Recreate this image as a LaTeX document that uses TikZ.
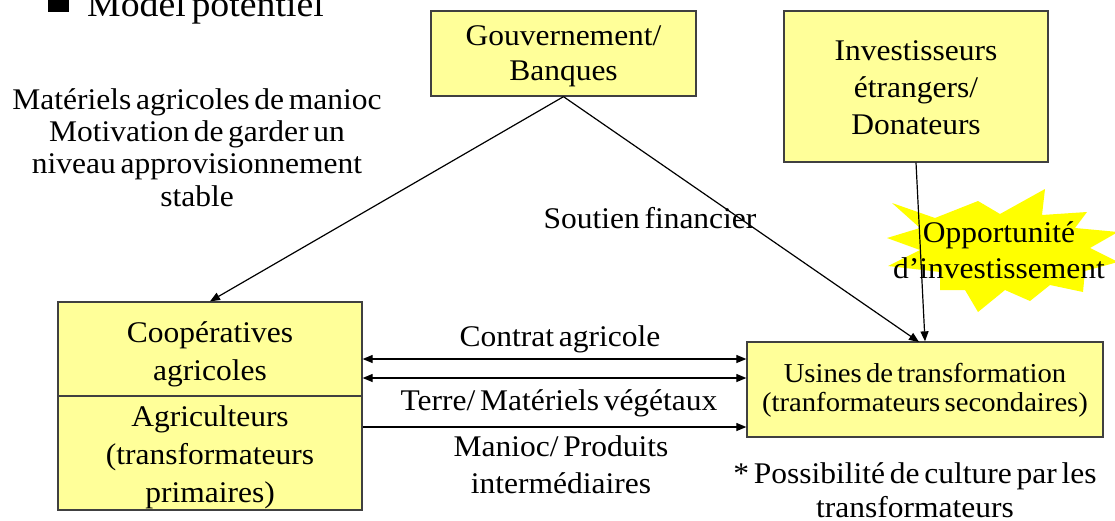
\documentclass[tikz,border=0pt]{standalone}
\usepackage{fontspec}
\setmainfont{Liberation Serif}[FakeStretch=1.05,WordSpace=0.6]
\usetikzlibrary{arrows.meta}
\definecolor{boxfill}{HTML}{FFFF99}
\definecolor{boxline}{HTML}{404040}
\definecolor{burst}{HTML}{FFFF00}
% centred stack of lines, lowered by #1 without changing its size
\newcommand\boxlines[2]{\raisebox{#1}[\height][\depth]{\begin{tabular}{@{}c@{}}#2\end{tabular}}}

\begin{document}
\begin{tikzpicture}[x=1pt,y=-1pt,
  box/.style={draw=boxline, line width=1.3pt, fill=boxfill, inner sep=0pt, anchor=center},
  lbl/.style={inner sep=0pt, font=\fontsize{30}{37}\selectfont},
  link/.style={line width=1.2pt, draw=black},
  tip/.style={link, -{Triangle[length=10pt,width=8pt]}},
  twotip/.style={link, {Triangle[length=10pt,width=8pt]}-{Triangle[length=10pt,width=8pt]}}]

\useasboundingbox (0,0) rectangle (1115,520);

% heading with its bullet
\fill[black] (48,-9) rectangle (69,12);
\node[inner sep=0pt, anchor=base west, font=\fontsize{36}{42}\selectfont] (title) at (87,16) {Model potentiel};

% actors
\node[box, minimum width=265pt, minimum height=85pt, font=\fontsize{30}{35}\selectfont] (gouv) at (563.5,53.5)
  {\boxlines{-2pt}{Gouvernement/\\Banques}};
\node[box, minimum width=264pt, minimum height=151pt, font=\fontsize{30}{37}\selectfont] (invest) at (916,86.5)
  {\boxlines{-4pt}{Investisseurs\\étrangers/\\Donateurs}};
\node[box, minimum width=304pt, minimum height=96pt, font=\fontsize{30}{38}\selectfont] (coop) at (210,350)
  {\boxlines{-4pt}{Coopératives\\agricoles}};
\node[box, minimum width=304pt, minimum height=110pt, font=\fontsize{30}{38}\selectfont] (agri) at (210,453)
  {\boxlines{-4pt}{Agriculteurs\\(transformateurs\\primaires)}};
\node[box, minimum width=356pt, minimum height=95pt, font=\fontsize{27.3}{29}\selectfont] (usines) at (925,389.5)
  {\boxlines{-2pt}{Usines de transformation\\(tranformateurs secondaires)}};

% investment opportunity burst
\fill[burst] (892,203) -- (935,218) -- (978,201) -- (1000,214) -- (1045,189) -- (1042,215)
  -- (1087,212) -- (1075,228) -- (1118,232) -- (1090,248) -- (1118,262) -- (1085,271)
  -- (1083,292) -- (1050,285) -- (1030,301) -- (1005,290) -- (978,312) -- (965,290)
  -- (940,290) -- (940,272) -- (888,266) -- (920,250) -- (887,238) -- (920,228) -- cycle;

% flows
\coordinate (usinesin) at (919,342);
\draw[tip] (gouv.south) -- (coop.north);
\draw[tip] (gouv.south) -- (usinesin);
\draw[tip] (invest.south) -- (usines.north);
\draw[twotip] ([yshift=-9pt]coop.east) -- ([yshift=-9pt]coop.east -| usines.west);
\draw[twotip] ([yshift=-28pt]coop.east) -- ([yshift=-28pt]coop.east -| usines.west);
\draw[tip] ([yshift=26pt]agri.east) -- ([yshift=26pt]agri.east -| usines.west);

% labels
\node[lbl, anchor=north, font=\fontsize{30}{32.3}\selectfont] (motif) at (197,86.4)
  {\boxlines{0pt}{Matériels agricoles de manioc\\Motivation de garder un\\niveau approvisionnement\\stable}};
\node[lbl, anchor=base] (soutien) at (650,228) {Soutien financier};
\node[lbl, anchor=north, font=\fontsize{30}{36}\selectfont] (opport) at (999,216.8)
  {\boxlines{0pt}{Opportunité\\d’investissement}};
\node[lbl, anchor=base] (contrat) at (560,346) {Contrat agricole};
\node[lbl, anchor=base] (terre) at (559,410) {Terre/ Matériels végétaux};
\node[lbl, anchor=north, font=\fontsize{30}{37}\selectfont] (manioc) at (561,430)
  {\boxlines{0pt}{Manioc/ Produits\\intermédiaires}};
\node[lbl, anchor=north, font=\fontsize{30}{34}\selectfont] (note) at (915,459.2)
  {\boxlines{0pt}{* Possibilité de culture par les\\transformateurs}};

\end{tikzpicture}
\end{document}
